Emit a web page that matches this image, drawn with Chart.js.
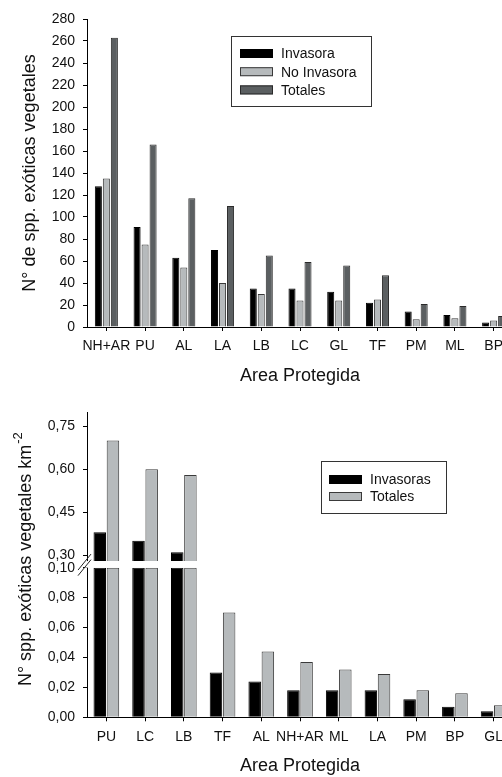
<!DOCTYPE html>
<html>
<head>
<meta charset="utf-8">
<script src="https://cdn.jsdelivr.net/npm/chart.js@4.4.0/dist/chart.umd.min.js"></script>
<style>
  body { margin: 0; background: #fff; }
  #wrap { width: 502px; height: 777px; overflow: hidden; }
  canvas { display: block; }
</style>
</head>
<body>
<div id="wrap">
  <canvas id="chartTop" width="530" height="390"></canvas>
  <canvas id="chartBottom" width="530" height="387"></canvas>
</div>
<script>
/* eslint-disable*/

// grafico superior: n de especies por area
const areasTop = ['NH+AR', 'PU', 'AL', 'LA', 'LB', 'LC', 'GL', 'TF', 'PM', 'ML', 'BP'];
const invasora = [128, 91, 63, 70, 35, 35, 32, 22, 14, 11, 4];
const noInvasora = [135, 75, 54, 40, 30, 24, 24, 25, 7, 8, 6];
const totales = [263, 166, 117, 110, 65, 59, 56, 47, 21, 19, 10];

// grafico inferior: especies por km2 (eje cortado)
const areasBottom = ['PU', 'LC', 'LB', 'TF', 'AL', 'NH+AR', 'ML', 'LA', 'PM', 'BP', 'GL'];
const invasorasKm = [0.38, 0.35, 0.31, 0.03, 0.024, 0.018, 0.018, 0.018, 0.012, 0.007, 0.004];
const totalesKm = [0.70, 0.60, 0.58, 0.07, 0.044, 0.037, 0.032, 0.029, 0.018, 0.016, 0.008];
const yTicksLower = [0, 0.02, 0.04, 0.06, 0.08, 0.10];
const yTicksUpper = [0.30, 0.45, 0.60, 0.75];

const lowerMax = 0.10;
const upperMin = 0.256;
const upperBarStart = 0.279;
const upperMax = 0.80;

const FONT = '"Liberation Sans", Arial, Helvetica, sans-serif';
Chart.defaults.font.family = FONT;
Chart.defaults.font.size = 14;
Chart.defaults.color = '#111';

const BLACK = '#000000';
const LIGHT = '#b6babc';
const DARK = '#5b5f61';

const comma = (v) => v.toFixed(2).replace('.', ',');

// leyenda en caja dentro del area del grafico
const boxLegend = {
  id: 'boxLegend',
  afterDraw(chart, args, opts) {
    const ctx = chart.ctx;
    const items = chart.data.datasets.filter((d) => !d.hideInLegend);
    ctx.save();
    ctx.fillStyle = '#fff';
    ctx.fillRect(opts.x, opts.y, opts.w, opts.h);
    ctx.strokeStyle = '#333';
    ctx.lineWidth = 1;
    ctx.strokeRect(opts.x + 0.5, opts.y + 0.5, opts.w, opts.h);
    ctx.font = '14px ' + FONT;
    ctx.textBaseline = 'middle';
    items.forEach((d, i) => {
      const cy = opts.firstY + i * opts.rowH;
      ctx.fillStyle = d.backgroundColor;
      ctx.fillRect(opts.swatchX, cy - 4.5, 33, 9);
      ctx.strokeStyle = d.borderColor;
      ctx.strokeRect(opts.swatchX + 0.5, cy - 4, 32, 8);
      ctx.fillStyle = '#111';
      ctx.fillText(d.label, opts.swatchX + 41, cy + 1);
    });
    ctx.restore();
  },
};

// titulo del eje y con superindice
const ySupTitle = {
  id: 'ySupTitle',
  afterDraw(chart, args, opts) {
    const ctx = chart.ctx;
    const area = chart.chartArea;
    ctx.save();
    ctx.translate(opts.x, (area.top + area.bottom) / 2 + opts.dy);
    ctx.rotate(-Math.PI / 2);
    ctx.fillStyle = '#111';
    ctx.textBaseline = 'middle';
    ctx.textAlign = 'left';
    ctx.font = '18px ' + FONT;
    const w1 = ctx.measureText(opts.text).width;
    ctx.font = '13px ' + FONT;
    const w2 = ctx.measureText(opts.sup).width;
    const start = -(w1 + w2) / 2;
    ctx.font = '18px ' + FONT;
    ctx.fillText(opts.text, start, 0);
    ctx.font = '13px ' + FONT;
    ctx.fillText(opts.sup, start + w1 + 1, -8);
    ctx.restore();
  },
};

// marcas de corte en el eje y
const axisBreak = {
  id: 'axisBreak',
  afterDraw(chart) {
    const ctx = chart.ctx;
    const up = chart.scales.yUpper;
    const lo = chart.scales.yLower;
    const x = chart.chartArea.left;
    const yTop = up.getPixelForValue(upperBarStart);
    const yBot = lo.top;
    ctx.save();
    ctx.fillStyle = '#fff';
    ctx.fillRect(x - 2, yTop, 4, yBot - yTop);
    ctx.strokeStyle = '#222';
    ctx.lineWidth = 1;
    ctx.beginPath();
    ctx.moveTo(x - 9, yTop + 9);
    ctx.lineTo(x + 4, yTop - 7);
    ctx.moveTo(x - 9, yBot + 8);
    ctx.lineTo(x + 4, yBot - 8);
    ctx.stroke();
    ctx.restore();
  },
};

const xAxis = (labels, h, titlePad) => ({
  type: 'category',
  labels: labels,
  offset: true,
  grid: { drawOnChartArea: false, offset: false, tickLength: 4, color: '#000' },
  border: { color: '#000', width: 1 },
  ticks: { padding: 7, maxRotation: 0, autoSkip: false, font: { size: 14 } },
  title: {
    display: true,
    text: 'Area Protegida',
    font: { size: 18 },
    padding: { top: 0, bottom: titlePad },
  },
  afterFit: (s) => { s.height = h; },
});

new Chart(document.getElementById('chartTop'), {
  type: 'bar',
  data: {
    labels: areasTop,
    datasets: [
      { label: 'Invasora', data: invasora, backgroundColor: BLACK, borderColor: BLACK, borderWidth: 1 },
      { label: 'No Invasora', data: noInvasora, backgroundColor: LIGHT, borderColor: '#3a3a3a', borderWidth: 1 },
      { label: 'Totales', data: totales, backgroundColor: DARK, borderColor: '#2a2a2a', borderWidth: 1 },
    ],
  },
  options: {
    responsive: false,
    animation: false,
    devicePixelRatio: 1,
    categoryPercentage: 0.62,
    barPercentage: 0.88,
    layout: { padding: { left: 0, top: 19, right: 17, bottom: 0 } },
    plugins: {
      legend: { display: false },
      tooltip: { enabled: false },
      boxLegend: { x: 231, y: 36, w: 140, h: 70, swatchX: 240, firstY: 53.5, rowH: 18.2 },
    },
    scales: {
      x: xAxis(areasTop, 63, 3),
      y: {
        min: 0,
        max: 280,
        ticks: { stepSize: 20, padding: 8, autoSkip: false, font: { size: 14 } },
        grid: { drawOnChartArea: false, tickLength: 4, color: '#000' },
        border: { color: '#000', width: 1 },
        title: {
          display: true,
          text: 'N° de spp. exóticas vegetales',
          font: { size: 18 },
          padding: { top: 19, bottom: 0 },
        },
        afterFit: (s) => { s.width = 87; },
      },
    },
  },
  plugins: [boxLegend],
});

const lowerPart = (arr) => arr.map((v) => Math.min(v, lowerMax));
const upperPart = (arr) => arr.map((v) => (v > upperBarStart ? [upperBarStart, v] : null));

const yBroken = (min, max, ticks, weight) => ({
  type: 'linear',
  position: 'left',
  stack: 'broken',
  stackWeight: weight,
  stacked: false,
  min: min,
  max: max,
  afterBuildTicks: (s) => { s.ticks = ticks.map((v) => ({ value: v })); },
  ticks: { padding: 8, autoSkip: false, font: { size: 14 }, callback: (v) => comma(v) },
  grid: { drawOnChartArea: false, tickLength: 4, color: '#000' },
  border: { color: '#000', width: 1 },
  afterFit: (s) => { s.width = 87; },
});

new Chart(document.getElementById('chartBottom'), {
  type: 'bar',
  data: {
    labels: areasBottom,
    datasets: [
      { label: 'Invasoras', data: lowerPart(invasorasKm), yAxisID: 'yLower', stack: 'inv',
        backgroundColor: BLACK, borderColor: BLACK, borderWidth: 1 },
      { label: 'Totales', data: lowerPart(totalesKm), yAxisID: 'yLower', stack: 'tot',
        backgroundColor: LIGHT, borderColor: '#3a3a3a', borderWidth: 1 },
      { label: 'Invasoras', data: upperPart(invasorasKm), yAxisID: 'yUpper', stack: 'inv', hideInLegend: true,
        backgroundColor: BLACK, borderColor: BLACK, borderWidth: 1 },
      { label: 'Totales', data: upperPart(totalesKm), yAxisID: 'yUpper', stack: 'tot', hideInLegend: true,
        backgroundColor: LIGHT, borderColor: '#3a3a3a', borderWidth: 1 },
    ],
  },
  options: {
    responsive: false,
    animation: false,
    devicePixelRatio: 1,
    categoryPercentage: 0.68,
    barPercentage: 0.95,
    layout: { padding: { left: 0, top: 22, right: 17, bottom: 0 } },
    plugins: {
      legend: { display: false },
      tooltip: { enabled: false },
      boxLegend: { x: 321, y: 71, w: 125, h: 52, swatchX: 329, firstY: 89.5, rowH: 17 },
      ySupTitle: { x: 26, dy: -5, text: 'N° spp. exóticas vegetales km', sup: '-2' },
    },
    scales: {
      x: xAxis(areasBottom, 59.7, 0),
      yLower: yBroken(0, lowerMax, yTicksLower, 150),
      yUpper: yBroken(upperMin, upperMax, yTicksUpper, 156),
    },
  },
  plugins: [boxLegend, ySupTitle, axisBreak],
});
</script>
</body>
</html>
